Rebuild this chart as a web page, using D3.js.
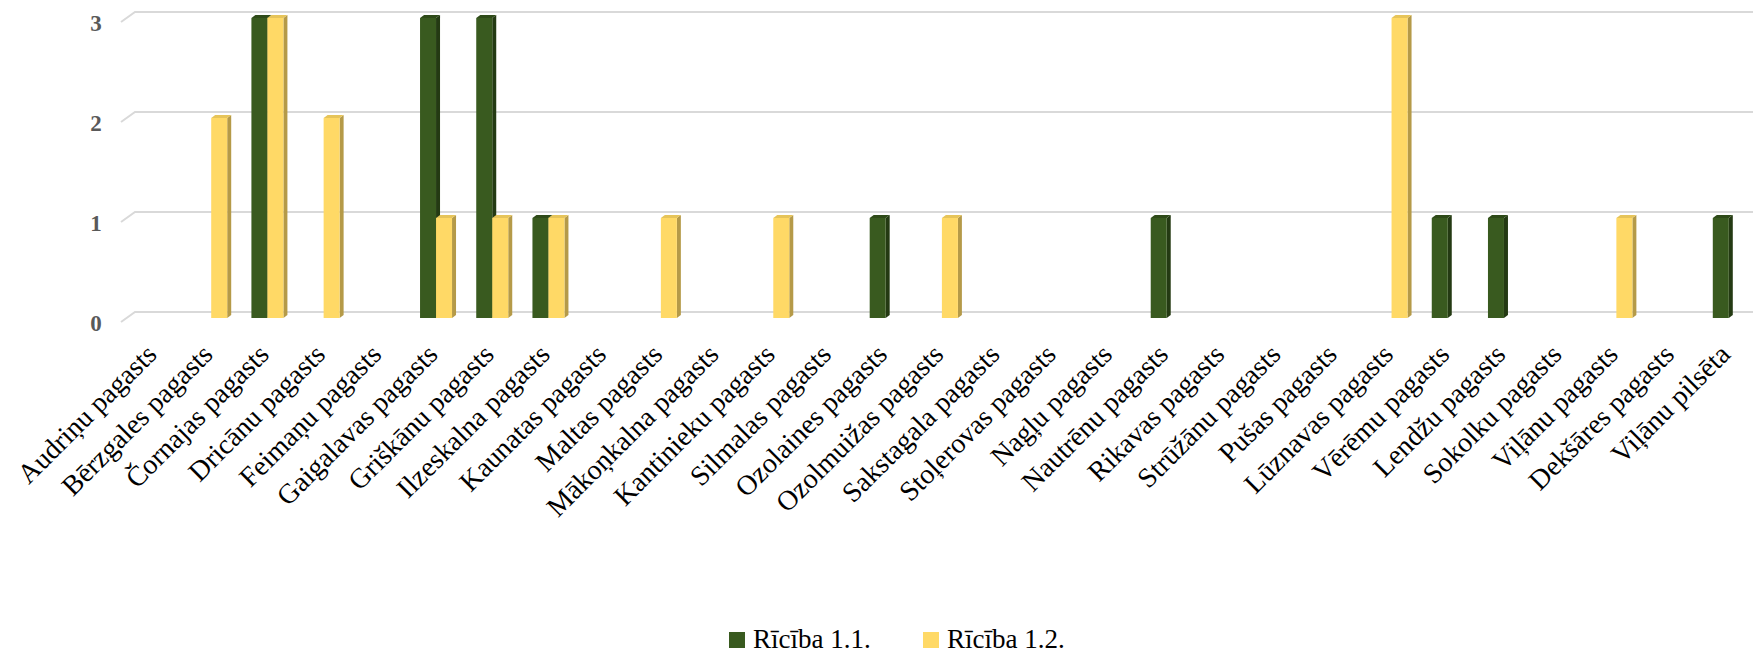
<!DOCTYPE html>
<html>
<head>
<meta charset="utf-8">
<script src="https://cdn.jsdelivr.net/npm/d3@7"></script>
<style>
  body { margin: 0; background: #fff; }
</style>
</head>
<body>
<svg id="canvas" width="1753" height="655"></svg>
<script>
let categories = ["Audriņu pagasts", "Bērzgales pagasts", "Čornajas pagasts", "Dricānu pagasts",
  "Feimaņu pagasts", "Gaigalavas pagasts", "Griškānu pagasts", "Ilzeskalna pagasts",
  "Kaunatas pagasts", "Maltas pagasts", "Mākoņkalna pagasts", "Kantinieku pagasts",
  "Silmalas pagasts", "Ozolaines pagasts", "Ozolmuižas pagasts", "Sakstagala pagasts",
  "Stoļerovas pagasts", "Nagļu pagasts", "Nautrēnu pagasts", "Rikavas pagasts",
  "Strūžānu pagasts", "Pušas pagasts", "Lūznavas pagasts", "Vērēmu pagasts",
  "Lendžu pagasts", "Sokolku pagasts", "Viļānu pagasts", "Dekšāres pagasts", "Viļānu pilsēta"]

let seriesNames = ["Rīcība 1.1.", "Rīcība 1.2."]
let riciba11 = [0, 0, 3, 0, 0, 3, 3, 1, 0, 0, 0, 0, 0, 1, 0, 0, 0, 0, 1, 0, 0, 0, 0, 1, 1, 0, 0, 0, 1]
let riciba12 = [0, 2, 3, 2, 0, 1, 1, 1, 0, 1, 0, 1, 0, 0, 1, 0, 0, 0, 0, 0, 0, 0, 3, 0, 0, 0, 1, 0, 0]
let yTicks = [0, 1, 2, 3]

let serif = "'Liberation Serif', 'Times New Roman', serif"

let colors = {
  "Rīcība 1.1.": { front: "#395a1f", side: "#243a13", top: "#2e4a18" },
  "Rīcība 1.2.": { front: "#ffd966", side: "#b59a48", top: "#e6c45a" }
}

let canvas = d3.select("#canvas")

let x = d3.scaleBand().domain(categories).range([128, 1758])
let x1 = d3.scaleBand().domain(seriesNames).range([11, 43])
let y = d3.scaleLinear().domain([0, 3]).range([318, 18])

// depth offsets of the 3d look
let dx = 4, dy = 3
let gridShift = 6

// gridlines with the back wall diagonal
canvas.append("g").selectAll("path")
  .data(yTicks)
  .enter()
  .append("path")
  .attr("d", (t) => {
    let gy = y(t) - gridShift
    return "M121," + (gy + 10) + "L135," + gy + "L1753," + gy
  })
  .attr("fill", "none")
  .attr("stroke", "#d9d9d9")
  .attr("stroke-width", 2)

canvas.append("g").selectAll("text")
  .data(yTicks)
  .enter()
  .append("text")
  .attr("x", 96)
  .attr("y", (t) => y(t) - gridShift + 19)
  .attr("text-anchor", "middle")
  .style("font-family", serif)
  .attr("font-size", 23)
  .attr("font-weight", "bold")
  .attr("fill", "#595959")
  .text((t) => t)

let rows = []
categories.forEach((c, i) => {
  rows.push({ cat: c, s: seriesNames[0], v: riciba11[i] })
  rows.push({ cat: c, s: seriesNames[1], v: riciba12[i] })
})

let bars = canvas.append("g").selectAll("g")
  .data(rows.filter((d) => d.v > 0))
  .enter()
  .append("g")

// right side face
bars.append("path")
  .attr("d", (d) => {
    let bx = x(d.cat) + x1(d.s) + x1.bandwidth()
    return "M" + bx + "," + y(d.v) + "L" + (bx + dx) + "," + (y(d.v) - dy) +
      "L" + (bx + dx) + "," + (y(0) - dy) + "L" + bx + "," + y(0) + "Z"
  })
  .attr("fill", (d) => colors[d.s].side)

// top face
bars.append("path")
  .attr("d", (d) => {
    let bx = x(d.cat) + x1(d.s)
    let w = x1.bandwidth()
    return "M" + bx + "," + y(d.v) + "L" + (bx + dx) + "," + (y(d.v) - dy) +
      "L" + (bx + w + dx) + "," + (y(d.v) - dy) + "L" + (bx + w) + "," + y(d.v) + "Z"
  })
  .attr("fill", (d) => colors[d.s].top)

bars.append("rect")
  .attr("x", (d) => x(d.cat) + x1(d.s))
  .attr("y", (d) => y(d.v))
  .attr("width", x1.bandwidth())
  .attr("height", (d) => y(0) - y(d.v))
  .attr("fill", (d) => colors[d.s].front)

// category labels
canvas.append("g").selectAll("text")
  .data(categories)
  .enter()
  .append("text")
  .attr("transform", (c) => "translate(" + (x(c) + x.bandwidth() / 2 + 2) + ",356) rotate(-45)")
  .attr("text-anchor", "end")
  .style("font-family", serif)
  .attr("font-size", 28)
  .attr("fill", "#000")
  .text((c) => c)

// legend
let legendX = [729, 923]
let legend = canvas.append("g").selectAll("g")
  .data(seriesNames)
  .enter()
  .append("g")
  .attr("transform", (s, i) => "translate(" + legendX[i] + ",632)")

legend.append("rect")
  .attr("width", 16)
  .attr("height", 16)
  .attr("fill", (s) => colors[s].front)

legend.append("text")
  .attr("x", 24)
  .attr("y", 16)
  .style("font-family", serif)
  .attr("font-size", 27)
  .attr("fill", "#000")
  .text((s) => s)
</script>
</body>
</html>
